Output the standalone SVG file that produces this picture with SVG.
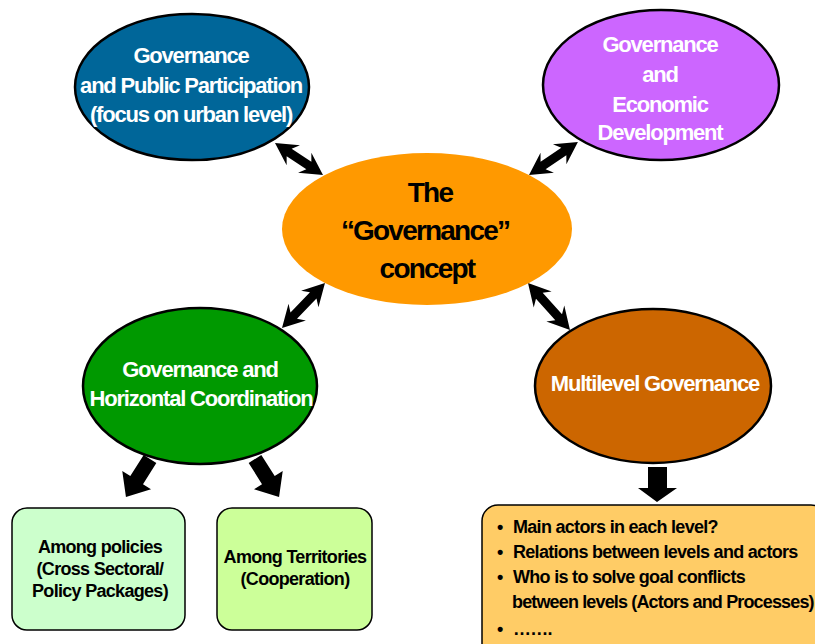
<svg xmlns="http://www.w3.org/2000/svg" width="815" height="644" viewBox="0 0 815 644">
<style>
.ell{stroke:#000;stroke-width:2.5}
.wt{fill:#fff;font-family:"Liberation Sans",Arial,sans-serif;font-weight:bold;font-size:22px;letter-spacing:-1.2px;text-anchor:middle}
.ct{fill:#000;font-family:"Liberation Sans",Arial,sans-serif;font-weight:bold;font-size:28px;letter-spacing:-1.8px;text-anchor:middle}
.bt{fill:#000;font-family:"Liberation Sans",Arial,sans-serif;font-weight:bold;font-size:18px;letter-spacing:-0.7px;text-anchor:middle}
.lt{fill:#000;font-family:"Liberation Sans",Arial,sans-serif;font-weight:bold;font-size:18px;letter-spacing:-0.7px}
.box{stroke:#000;stroke-width:1.5}
.arr{fill:#000}
</style>
<rect width="815" height="644" fill="#fff"/>
<g id="connectors" class="arr">
  <polygon transform="translate(275,143) rotate(33.7)" points="0,0 22,-12 17,-4.5 40.7,-4.5 35.7,-12 57.7,0 35.7,12 40.7,4.5 17,4.5 22,12"/>
  <polygon transform="translate(529,175) rotate(-34)" points="0,0 22,-12 17,-4.5 42,-4.5 37,-12 59,0 37,12 42,4.5 17,4.5 22,12"/>
  <polygon transform="translate(282,328) rotate(-46.3)" points="0,0 22,-12 17,-4.5 45.2,-4.5 40.2,-12 62.2,0 40.2,12 45.2,4.5 17,4.5 22,12"/>
  <polygon transform="translate(528,283) rotate(48.2)" points="0,0 22,-12 17,-4.5 46,-4.5 41,-12 63,0 41,12 46,4.5 17,4.5 22,12"/>
  <polygon transform="translate(150,459) rotate(122.3)" points="0,-7.5 25,-7.5 25,-17 45,0 25,17 25,7.5 0,7.5"/>
  <polygon transform="translate(255,459) rotate(57.7)" points="0,-7.5 25,-7.5 25,-17 45,0 25,17 25,7.5 0,7.5"/>
  <polygon points="648,467 667,467 667,488 677,488 657,502 638,488 648,488"/>
</g>
<g id="node-public">
  <ellipse class="ell" cx="192" cy="87" rx="117" ry="73" fill="#006699"/>
  <text class="wt" x="191" y="63">Governance</text>
  <text class="wt" x="191" y="93">and Public Participation</text>
  <text class="wt" x="191" y="122">(focus on urban level)</text>
</g>
<g id="node-economic">
  <ellipse class="ell" cx="661" cy="85" rx="118" ry="75" fill="#cc66ff"/>
  <text class="wt" x="660" y="52">Governance</text>
  <text class="wt" x="660" y="82">and</text>
  <text class="wt" x="660" y="112">Economic</text>
  <text class="wt" x="660" y="140">Development</text>
</g>
<g id="node-concept">
  <ellipse cx="427" cy="229" rx="145" ry="76" fill="#ff9900"/>
  <text class="ct" x="430" y="202">The</text>
  <text class="ct" x="425" y="240">“Governance”</text>
  <text class="ct" x="427" y="278">concept</text>
</g>
<g id="node-horizontal">
  <ellipse class="ell" cx="200" cy="386" rx="117" ry="78" fill="#009900"/>
  <text class="wt" x="200" y="377">Governance and</text>
  <text class="wt" x="201" y="406">Horizontal Coordination</text>
</g>
<g id="node-multilevel">
  <ellipse class="ell" cx="653" cy="386" rx="118" ry="77" fill="#cc6600"/>
  <text class="wt" x="655" y="391">Multilevel Governance</text>
</g>
<g id="node-policies">
  <rect class="box" x="12" y="508" width="173" height="122" rx="15" fill="#ccffcc"/>
  <text class="bt" x="100" y="553">Among policies</text>
  <text class="bt" x="100" y="575">(Cross Sectoral/</text>
  <text class="bt" x="100" y="597">Policy Packages)</text>
</g>
<g id="node-territories">
  <rect class="box" x="217" y="508" width="155" height="122" rx="15" fill="#ccff99"/>
  <text class="bt" x="295" y="563">Among Territories</text>
  <text class="bt" x="295" y="585">(Cooperation)</text>
</g>
<g id="node-questions">
  <rect class="box" x="482" y="505" width="345" height="160" rx="16" fill="#ffcc66"/>
  <text class="lt" x="497" y="533">•</text>
  <text class="lt" x="513" y="533">Main actors in each level?</text>
  <text class="lt" x="497" y="558">•</text>
  <text class="lt" x="513" y="558">Relations between levels and actors</text>
  <text class="lt" x="497" y="583">•</text>
  <text class="lt" x="513" y="583">Who is to solve goal conflicts</text>
  <text class="lt" x="512" y="608" style="letter-spacing:-0.85px">between levels (Actors and Processes)</text>
  <text class="lt" x="497" y="635">•</text>
  <text class="lt" x="513" y="635">…….</text>
</g>
</svg>
